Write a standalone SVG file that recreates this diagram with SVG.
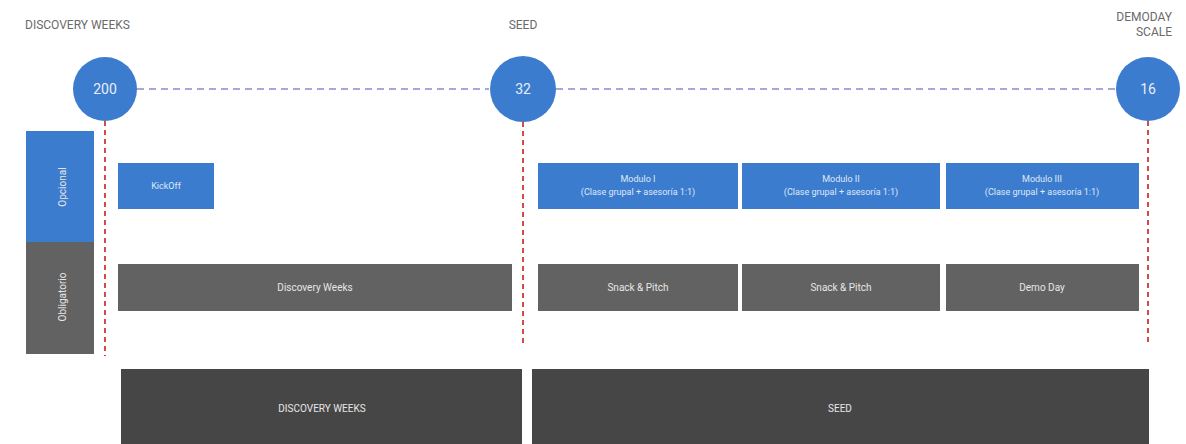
<svg xmlns="http://www.w3.org/2000/svg" width="1186" height="444" viewBox="0 0 1186 444">
<style>
.hdr{font-family:"Roboto","Liberation Sans",sans-serif;font-size:12px;fill:#6a6a6a}
.num{font-family:"Roboto","Liberation Sans",sans-serif;font-size:14px;fill:#e8eef8;text-anchor:middle}
.circ{fill:#3c7ccf}
.blue{fill:#3c7ccf}
.gray{fill:#626262}
.dark{fill:#464646}
.lt{font-family:"Roboto","Liberation Sans",sans-serif;font-size:10px;fill:#e6e6e6;text-anchor:middle}
.lb{font-family:"Roboto","Liberation Sans",sans-serif;font-size:9px;fill:#dfe8f6;text-anchor:middle}
.vd{stroke:#d24a4a;stroke-width:2;stroke-dasharray:5,4;fill:none}
.hd{stroke:#8a8ad0;stroke-width:1.5;stroke-dasharray:7,5;fill:none}
</style>
<rect width="1186" height="444" fill="#ffffff"/>
<g id="connectors">
<line class="hd" x1="137" y1="89" x2="489" y2="89"/>
<line class="hd" x1="556" y1="89" x2="1116" y2="89"/>
<line class="vd" x1="105" y1="121" x2="105" y2="356"/>
<line class="vd" x1="523" y1="122" x2="523" y2="346"/>
<line class="vd" x1="1148" y1="121" x2="1148" y2="346"/>
</g>
<g id="headers">
<text class="hdr" x="25" y="29">DISCOVERY WEEKS</text>
<text class="hdr" x="523" y="29" text-anchor="middle">SEED</text>
<text class="hdr" x="1172" y="21" text-anchor="end">DEMODAY</text>
<text class="hdr" x="1172" y="36" text-anchor="end">SCALE</text>
</g>
<g id="m200"><circle class="circ" cx="105" cy="89" r="32"/><text class="num" x="105" y="94">200</text></g>
<g id="m32"><circle class="circ" cx="523" cy="89" r="33"/><text class="num" x="523" y="94">32</text></g>
<g id="m16"><circle class="circ" cx="1148" cy="89" r="32"/><text class="num" x="1148" y="94">16</text></g>
<g id="opcional"><rect class="blue" x="26" y="131" width="68" height="111"/><text class="lt" transform="translate(63,187) rotate(-90)" y="3">Opcional</text></g>
<g id="obligatorio"><rect class="gray" x="26" y="242" width="68" height="112"/><text class="lt" transform="translate(63,297) rotate(-90)" y="3">Obligatorio</text></g>
<g id="kickoff"><rect class="blue" x="118" y="163" width="96" height="46"/><text class="lb" x="166" y="189">KickOff</text></g>
<g id="modulo1"><rect class="blue" x="538" y="163" width="200" height="46"/><text class="lb" x="638" y="182">Modulo I</text><text class="lb" x="638" y="195">(Clase grupal + asesoría 1:1)</text></g>
<g id="modulo2"><rect class="blue" x="742" y="163" width="198" height="46"/><text class="lb" x="841" y="182">Modulo II</text><text class="lb" x="841" y="195">(Clase grupal + asesoría 1:1)</text></g>
<g id="modulo3"><rect class="blue" x="946" y="163" width="193" height="46"/><text class="lb" x="1042" y="182">Modulo III</text><text class="lb" x="1042" y="195">(Clase grupal + asesoría 1:1)</text></g>
<g id="discovery"><rect class="gray" x="118" y="264" width="394" height="47"/><text class="lt" x="315" y="291">Discovery Weeks</text></g>
<g id="snack1"><rect class="gray" x="538" y="264" width="200" height="47"/><text class="lt" x="638" y="291">Snack &amp; Pitch</text></g>
<g id="snack2"><rect class="gray" x="742" y="264" width="198" height="47"/><text class="lt" x="841" y="291">Snack &amp; Pitch</text></g>
<g id="demoday"><rect class="gray" x="946" y="264" width="193" height="47"/><text class="lt" x="1042" y="291">Demo Day</text></g>
<g id="phase-discovery"><rect class="dark" x="121" y="369" width="401" height="75"/><text class="lt" x="322" y="412">DISCOVERY WEEKS</text></g>
<g id="phase-seed"><rect class="dark" x="532" y="369" width="617" height="75"/><text class="lt" x="840" y="412">SEED</text></g>
</svg>
